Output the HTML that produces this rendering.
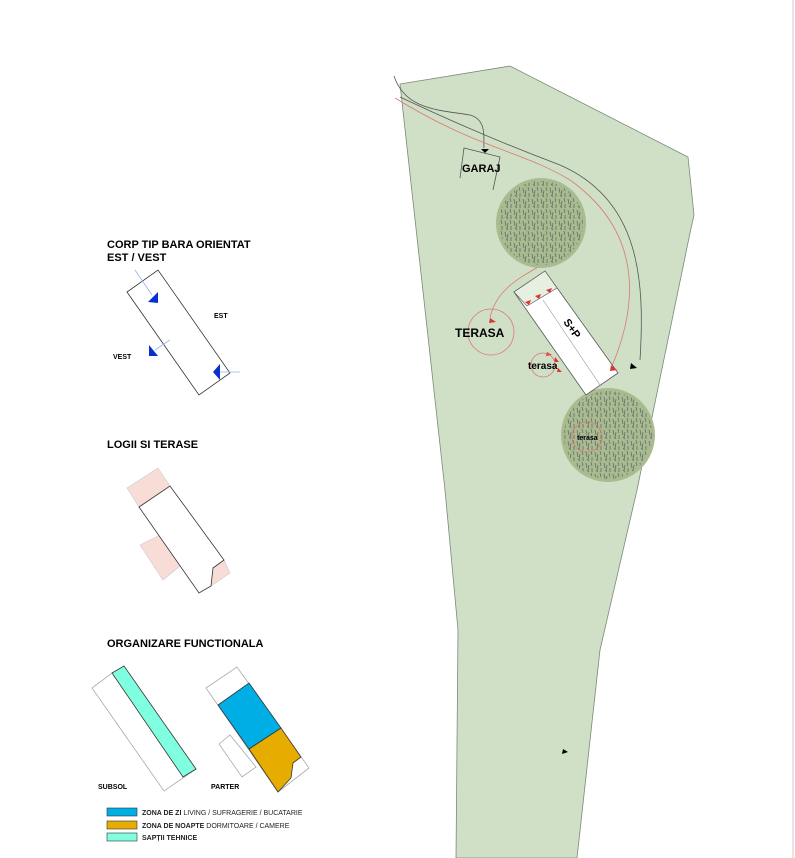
<!DOCTYPE html>
<html><head><style>body{margin:0;background:#fff;}svg{display:block;font-family:"Liberation Sans",sans-serif;}</style></head>
<body>
<svg width="795" height="858" viewBox="0 0 795 858">
<defs>
<pattern id="tx" width="9" height="11" patternUnits="userSpaceOnUse">
<path d="M1,1 l1,5 M4,3 l-1,6 M6,0 l1,4 M7,6 l0,4 M2,8 l2,2" stroke="#5f6f70" stroke-width="0.8" fill="none"/>
</pattern>
</defs>
<line x1="793" y1="0" x2="793" y2="858" stroke="#ccc" stroke-width="1"/>
<polygon points="400,84 510,66 688,157 694,215 690,233 637,490 600,650 577,858 456,858 458,630 445,490" fill="#cfe0c6" stroke="#7a8a78" stroke-width="0.8"/>
<path d="M394,76 C405,110 440,110 470,115 C488,120 483,140 484,148" fill="none" stroke="#555" stroke-width="0.8"/>
<path d="M400,97 C470,130 520,150 560,165 C640,200 645,280 640,360" fill="none" stroke="#555" stroke-width="0.8"/>
<path d="M395,98 C480,150 520,150 570,180 C640,230 640,300 612,366" fill="none" stroke="#d77" stroke-width="0.8"/>
<path d="M580,230 C560,270 500,270 490,318" fill="none" stroke="#d77" stroke-width="0.8"/>
<polygon points="481,149 489,149 485,153" fill="#000"/>
<polygon points="631,363 637,368 630,369" fill="#000"/>
<polygon points="563,749 568,752 562,754" fill="#000"/>
<polyline points="460,178 464,148 500,157 493,190" fill="none" stroke="#555" stroke-width="0.8"/>
<text x="462" y="172" font-size="11" font-weight="bold">GARAJ</text>
<circle cx="541" cy="223" r="45" fill="#a9bb8f"/>
<circle cx="541" cy="223" r="42" fill="url(#tx)"/>
<circle cx="608" cy="435" r="47" fill="#a9bb8f"/>
<circle cx="608" cy="435" r="44" fill="url(#tx)"/>
<circle cx="587" cy="437" r="15" fill="none" stroke="#d77" stroke-width="0.8"/>
<text x="577" y="440" font-size="7" font-weight="bold">terasa</text>
<polygon points="514,292 545,271 618,373 586,395" fill="#fff" stroke="#555" stroke-width="0.8"/>
<polygon points="514,292 545,271 557,288 527,306" fill="#e6efe0" stroke="#555" stroke-width="0.6"/>
<line x1="543" y1="300" x2="600" y2="385" stroke="#999" stroke-width="0.6"/>
<text x="0" y="0" font-size="11" font-weight="bold" transform="translate(563,322) rotate(55)">S+P</text>
<g fill="#d33"><polygon points="525,302 531,300 529,305"/><polygon points="535,296 541,294 539,299"/><polygon points="546,290 552,288 550,293"/><polygon points="611,365 617,370 610,371"/><polygon points="490,318 496,322 489,323"/><polygon points="547,352 552,355 546,356"/><polygon points="555,357 559,362 554,362"/><polygon points="558,368 562,372 557,372"/></g>
<circle cx="491" cy="332" r="23" fill="none" stroke="#d77" stroke-width="0.8"/>
<text x="455" y="337" font-size="12" font-weight="bold">TERASA</text>
<circle cx="543" cy="365" r="12" fill="none" stroke="#d77" stroke-width="0.8"/>
<text x="528" y="369" font-size="10" font-weight="bold">terasa</text>
<text x="107" y="248" font-size="11" font-weight="bold">CORP TIP BARA ORIENTAT</text>
<text x="107" y="261" font-size="11" font-weight="bold">EST / VEST</text>
<polygon points="127,292 158,270 230,373 199,395" fill="#fff" stroke="#333" stroke-width="0.8"/>
<g stroke="#9ab0f0" stroke-width="0.8"><line x1="135" y1="270" x2="152" y2="295"/><line x1="170" y1="340" x2="155" y2="350"/><line x1="220" y1="372" x2="240" y2="372"/></g>
<g fill="#0a2fd0"><polygon points="148,302 158,292 158,303"/><polygon points="149,345 158,356 149,356"/><polygon points="213,372 220,364 220,380"/></g>
<text x="214" y="318" font-size="7" font-weight="bold">EST</text>
<text x="113" y="359" font-size="7" font-weight="bold">VEST</text>
<text x="107" y="448" font-size="11" font-weight="bold">LOGII SI TERASE</text>
<polygon points="127,488 158,468 170,486 139,507" fill="#f8dcd6" stroke="#ccc" stroke-width="0.6"/>
<polygon points="140,545 162,534 180,566 163,580" fill="#f8dcd6" stroke="#ccc" stroke-width="0.6"/>
<polygon points="213,568 224,560 230,573 211,586" fill="#f8dcd6" stroke="#ccc" stroke-width="0.6"/>
<polygon points="139,507 170,486 224,560 213,568 211,586 199,593" fill="#fff" stroke="#333" stroke-width="0.8"/>
<text x="107" y="647" font-size="11" font-weight="bold">ORGANIZARE FUNCTIONALA</text>
<polygon points="92,688 112,673 196,769 164,791" fill="#fff" stroke="#aaa" stroke-width="0.8"/>
<polygon points="112,673 124,666 196,769 183,777" fill="#7fffdf" stroke="#333" stroke-width="0.8"/>
<polygon points="206,688 237,667 309,768 278,792" fill="#fff" stroke="#aaa" stroke-width="0.8"/>
<polygon points="219,744 230,735 256,767 242,777" fill="#fff" stroke="#aaa" stroke-width="0.8"/>
<polygon points="218,705 249,683 281,728 249,749" fill="#00aee6" stroke="#333" stroke-width="0.8"/>
<polygon points="249,749 281,728 301,757 293,763 291,778 278,792" fill="#e6ac00" stroke="#333" stroke-width="0.8"/>
<text x="98" y="789" font-size="7" font-weight="bold">SUBSOL</text>
<text x="211" y="789" font-size="7" font-weight="bold">PARTER</text>
<g stroke="#333" stroke-width="0.6">
<rect x="107" y="808" width="30" height="8" fill="#00aee6"/>
<rect x="107" y="821" width="30" height="8" fill="#e6ac00"/>
<rect x="107" y="833" width="30" height="8" fill="#7fffdf"/>
</g>
<g font-size="7" fill="#222">
<text x="142" y="815"><tspan font-weight="bold">ZONA DE ZI</tspan> LIVING / SUFRAGERIE / BUCATARIE</text>
<text x="142" y="828"><tspan font-weight="bold">ZONA DE NOAPTE</tspan> DORMITOARE / CAMERE</text>
<text x="142" y="840" font-weight="bold">SAPȚII TEHNICE</text>
</g>
</svg>
</body></html>
